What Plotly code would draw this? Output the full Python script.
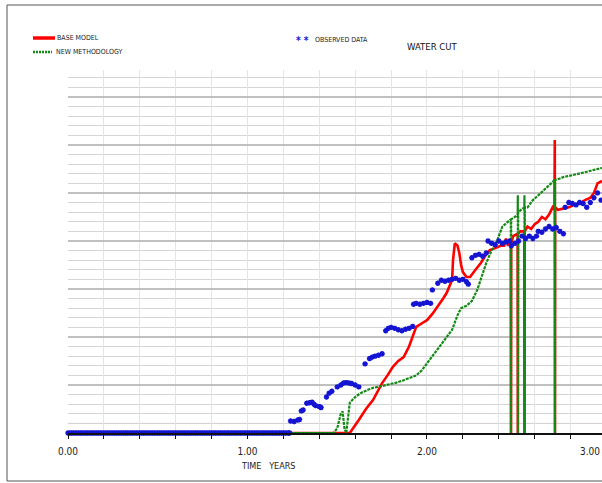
import plotly.graph_objects as go

# ---------------- data ----------------
obs_zero_t = [0.00, 0.01, 0.02, 0.03, 0.04, 0.05, 0.06, 0.07, 0.08, 0.09, 0.10, 0.11, 0.12, 0.13,
              0.14, 0.15, 0.16, 0.17, 0.18, 0.19, 0.20, 0.21, 0.22, 0.23, 0.24, 0.25, 0.26, 0.27,
              0.28, 0.29, 0.30, 0.31, 0.32, 0.33, 0.34, 0.35, 0.36, 0.37, 0.38, 0.39, 0.40, 0.41,
              0.42, 0.43, 0.44, 0.45, 0.46, 0.47, 0.48, 0.49, 0.50, 0.51, 0.52, 0.53, 0.54, 0.55,
              0.56, 0.57, 0.58, 0.59, 0.60, 0.61, 0.62, 0.63, 0.64, 0.65, 0.66, 0.67, 0.68, 0.69,
              0.70, 0.71, 0.72, 0.73, 0.74, 0.75, 0.76, 0.77, 0.78, 0.79, 0.80, 0.81, 0.82, 0.83,
              0.84, 0.85, 0.86, 0.87, 0.88, 0.89, 0.90, 0.91, 0.92, 0.93, 0.94, 0.95, 0.96, 0.97,
              0.98, 0.99, 1.00, 1.01, 1.02, 1.03, 1.04, 1.05, 1.06, 1.07, 1.08, 1.09, 1.10, 1.11,
              1.12, 1.13, 1.14, 1.15, 1.16, 1.17, 1.18, 1.19, 1.20, 1.21, 1.22, 1.23, 1.235]
obs_zero_v = [0.0] * len(obs_zero_t)

obs_t = [1.24, 1.26, 1.28, 1.29, 1.30, 1.31, 1.33, 1.345, 1.36, 1.37, 1.38, 1.40, 1.41,
         1.44, 1.455, 1.47, 1.50, 1.52, 1.535, 1.55, 1.565, 1.58, 1.60, 1.62, 1.655,
         1.68, 1.695, 1.71, 1.73, 1.75, 1.77, 1.785, 1.80, 1.82, 1.84, 1.86, 1.88, 1.90, 1.92,
         1.925, 1.94, 1.96, 1.98, 2.00, 2.02, 2.03, 2.06, 2.08, 2.10, 2.12, 2.14, 2.16, 2.18,
         2.20, 2.22, 2.23, 2.25, 2.27, 2.29, 2.31, 2.33, 2.34, 2.36, 2.38, 2.40, 2.42, 2.44,
         2.46, 2.47, 2.49, 2.51, 2.53, 2.55, 2.57, 2.59, 2.61, 2.62, 2.64, 2.66, 2.68, 2.70,
         2.72, 2.74, 2.76, 2.77, 2.79, 2.81, 2.83, 2.85, 2.87, 2.89, 2.91, 2.93, 2.95, 2.97]
obs_v = [0.025, 0.024, 0.027, 0.028, 0.046, 0.048, 0.062, 0.063, 0.064, 0.060, 0.057, 0.055, 0.053,
         0.075, 0.083, 0.087, 0.096, 0.100, 0.104, 0.105, 0.104, 0.103, 0.100, 0.096, 0.144,
         0.155, 0.158, 0.160, 0.162, 0.165, 0.213, 0.218, 0.220, 0.218, 0.215, 0.213, 0.216, 0.218, 0.222,
         0.268, 0.270, 0.268, 0.270, 0.272, 0.270, 0.298, 0.312, 0.318, 0.316, 0.318, 0.320, 0.322, 0.318,
         0.320, 0.315, 0.310, 0.365, 0.370, 0.372, 0.368, 0.375, 0.400, 0.395, 0.392, 0.400, 0.395, 0.398,
         0.400, 0.390, 0.395, 0.400, 0.410, 0.405, 0.410, 0.405, 0.410, 0.420, 0.418, 0.425, 0.430, 0.425,
         0.428, 0.420, 0.415, 0.470, 0.480, 0.478, 0.475, 0.480, 0.478, 0.470, 0.480, 0.490, 0.500, 0.485]

base_t = [0.00, 1.57, 1.62, 1.66, 1.70, 1.75, 1.78, 1.81, 1.84, 1.87, 1.90, 1.92, 1.94, 1.97,
          2.00, 2.03, 2.06, 2.09, 2.11, 2.14, 2.145, 2.155, 2.17, 2.18, 2.19, 2.20, 2.22, 2.24,
          2.27, 2.30, 2.33, 2.35, 2.38, 2.41, 2.43, 2.44, 2.45, 2.467, 2.468, 2.469, 2.48, 2.505,
          2.506, 2.507, 2.52, 2.542, 2.543, 2.544, 2.56, 2.58, 2.60, 2.62, 2.64, 2.66, 2.68, 2.70,
          2.71, 2.712, 2.713, 2.714, 2.73, 2.76, 2.79, 2.82, 2.85, 2.88, 2.91, 2.93, 2.95, 2.975]
base_v = [0.0, 0.0, 0.027, 0.050, 0.069, 0.104, 0.120, 0.138, 0.150, 0.158, 0.180, 0.200, 0.221, 0.228,
          0.235, 0.248, 0.263, 0.280, 0.292, 0.319, 0.360, 0.395, 0.390, 0.375, 0.350, 0.335, 0.325, 0.325,
          0.340, 0.354, 0.372, 0.381, 0.385, 0.390, 0.390, 0.405, 0.392, 0.395, 0.0, 0.395, 0.410, 0.415,
          0.0, 0.415, 0.420, 0.420, 0.0, 0.420, 0.430, 0.425, 0.435, 0.440, 0.450, 0.445, 0.455, 0.470,
          0.465, 0.610, 0.0, 0.470, 0.465, 0.468, 0.470, 0.475, 0.478, 0.485, 0.490, 0.500, 0.520, 0.525]

new_t = [0.00, 1.48, 1.50, 1.52, 1.53, 1.54, 1.55, 1.56, 1.57, 1.60, 1.63, 1.67, 1.70, 1.74,
         1.78, 1.83, 1.87, 1.91, 1.94, 1.97, 2.00, 2.04, 2.07, 2.11, 2.14, 2.17, 2.19, 2.22,
         2.25, 2.28, 2.31, 2.33, 2.36, 2.39, 2.42, 2.46, 2.467, 2.468, 2.469, 2.49, 2.505, 2.506,
         2.507, 2.508, 2.525, 2.542, 2.543, 2.544, 2.545, 2.56, 2.59, 2.62, 2.65, 2.68, 2.711, 2.712,
         2.713, 2.714, 2.74, 2.76, 2.81, 2.85, 2.89, 2.93, 2.975]
new_v = [0.0, 0.0, 0.010, 0.040, 0.045, 0.010, 0.0, 0.030, 0.063, 0.075, 0.083, 0.090, 0.094, 0.097,
         0.100, 0.105, 0.110, 0.115, 0.120, 0.130, 0.146, 0.165, 0.180, 0.200, 0.215, 0.245, 0.260, 0.265,
         0.275, 0.298, 0.330, 0.354, 0.380, 0.400, 0.430, 0.444, 0.445, 0.0, 0.445, 0.450, 0.455, 0.495,
         0.0, 0.460, 0.465, 0.470, 0.495, 0.0, 0.470, 0.470, 0.485, 0.495, 0.506, 0.515, 0.527, 0.527,
         0.0, 0.527, 0.530, 0.533, 0.537, 0.540, 0.544, 0.548, 0.552]

x_tick_vals = [0.0, 0.2, 0.4, 0.6, 0.8, 1.0, 1.2, 1.4, 1.6, 1.8, 2.0, 2.2, 2.4, 2.6, 2.8]
x_tick_text = ["0.00", "", "", "", "", "1.00", "", "", "", "", "2.00", "", "", "", ""]
x_last_label = "3.00"

# ---------------- layout geometry helpers ----------------
W, H = 602, 483
L, R, T, B = 68, 0, 70, 50
PW, PH = W - L - R, H - T - B


def px(x):
    return (x - L) / PW


def py(y):
    return (H - B - y) / PH


FONT = "Liberation Sans Narrow, Arial Narrow, DejaVu Sans Condensed, Liberation Sans, sans-serif"
BLUE = "#1414d2"
RED = "#ff0000"
GREEN = "#138a13"

fig = go.Figure()

fig.add_trace(go.Scatter(x=base_t, y=base_v, mode="lines", name="BASE MODEL",
                         line=dict(color=RED, width=2.6), cliponaxis=False))
fig.add_trace(go.Scatter(x=new_t, y=new_v, mode="lines", name="NEW METHODOLOGY",
                         line=dict(color=GREEN, width=2.2, dash="3px,1px"), cliponaxis=False))
fig.add_trace(go.Scatter(x=obs_zero_t + obs_t, y=obs_zero_v + obs_v, mode="markers",
                         name="OBSERVED DATA", cliponaxis=False,
                         marker=dict(symbol="asterisk-open", size=4.5, color=BLUE,
                                     line=dict(color=BLUE, width=1.6))))

shapes = [
    # outer frame
    dict(type="rect", xref="paper", yref="paper", x0=px(7), x1=px(640), y0=py(481), y1=py(5),
         line=dict(color="#555555", width=1), layer="below"),
    # pinkish low gridline
    dict(type="line", xref="paper", yref="y", x0=0, x1=1, y0=0.02, y1=0.02,
         line=dict(color="#e8b0b0", width=1), layer="below"),
    # legend samples
    dict(type="line", xref="paper", yref="paper", x0=px(33), x1=px(55), y0=py(38), y1=py(38),
         line=dict(color=RED, width=3.5)),
    dict(type="line", xref="paper", yref="paper", x0=px(33), x1=px(52), y0=py(52), y1=py(52),
         line=dict(color=GREEN, width=2.5, dash="2px,1px")),
]

ann = [
    dict(text="BASE MODEL", x=px(55), y=py(38), xanchor="left", yanchor="middle",
         font=dict(size=7, color="#222")),
    dict(text="NEW METHODOLOGY", x=px(54), y=py(52), xanchor="left", yanchor="middle",
         font=dict(size=7, color="#222")),
    dict(text="* *", x=px(294), y=py(41), xanchor="left", yanchor="middle",
         font=dict(size=10, color=BLUE, weight="bold")),
    dict(text="OBSERVED DATA", x=px(313), y=py(40), xanchor="left", yanchor="middle",
         font=dict(size=7, color="#222")),
    dict(text="WATER CUT", x=px(405), y=py(46), xanchor="left", yanchor="middle",
         font=dict(size=9.5, color="#111")),
    dict(text="TIME   YEARS", x=px(268), y=py(466), xanchor="center", yanchor="middle",
         font=dict(size=9, color="#222")),
    dict(text=x_last_label, x=1.0, y=py(451), xanchor="right", yanchor="middle",
         font=dict(size=10, color="#222")),
]
for a in ann:
    a.update(xref="paper", yref="paper", showarrow=False)

fig.update_layout(
    width=W, height=H,
    margin=dict(l=L, r=R, t=T, b=B),
    paper_bgcolor="white", plot_bgcolor="white",
    font=dict(family=FONT, color="#222"),
    showlegend=False,
    shapes=shapes, annotations=ann,
    xaxis=dict(range=[0, 2.975], tickvals=x_tick_vals, ticktext=x_tick_text,
               showgrid=True, gridcolor="#e4e4e4", gridwidth=1,
               showline=True, linecolor="#111", linewidth=1.5,
               ticks="outside", ticklen=4, tickcolor="#111", tickwidth=1,
               ticklabelstandoff=4,
               tickfont=dict(size=10, color="#222"), zeroline=False),
    yaxis=dict(range=[0, 0.756], tick0=0, dtick=0.1, showticklabels=False,
               showgrid=True, gridcolor="#c0c0c0", gridwidth=2.2,
               minor=dict(tick0=0, dtick=0.02, showgrid=True, gridcolor="#d4d4d4", gridwidth=1.4),
               zeroline=False, showline=False, ticks=""),
)

fig.write_html("out.html")
